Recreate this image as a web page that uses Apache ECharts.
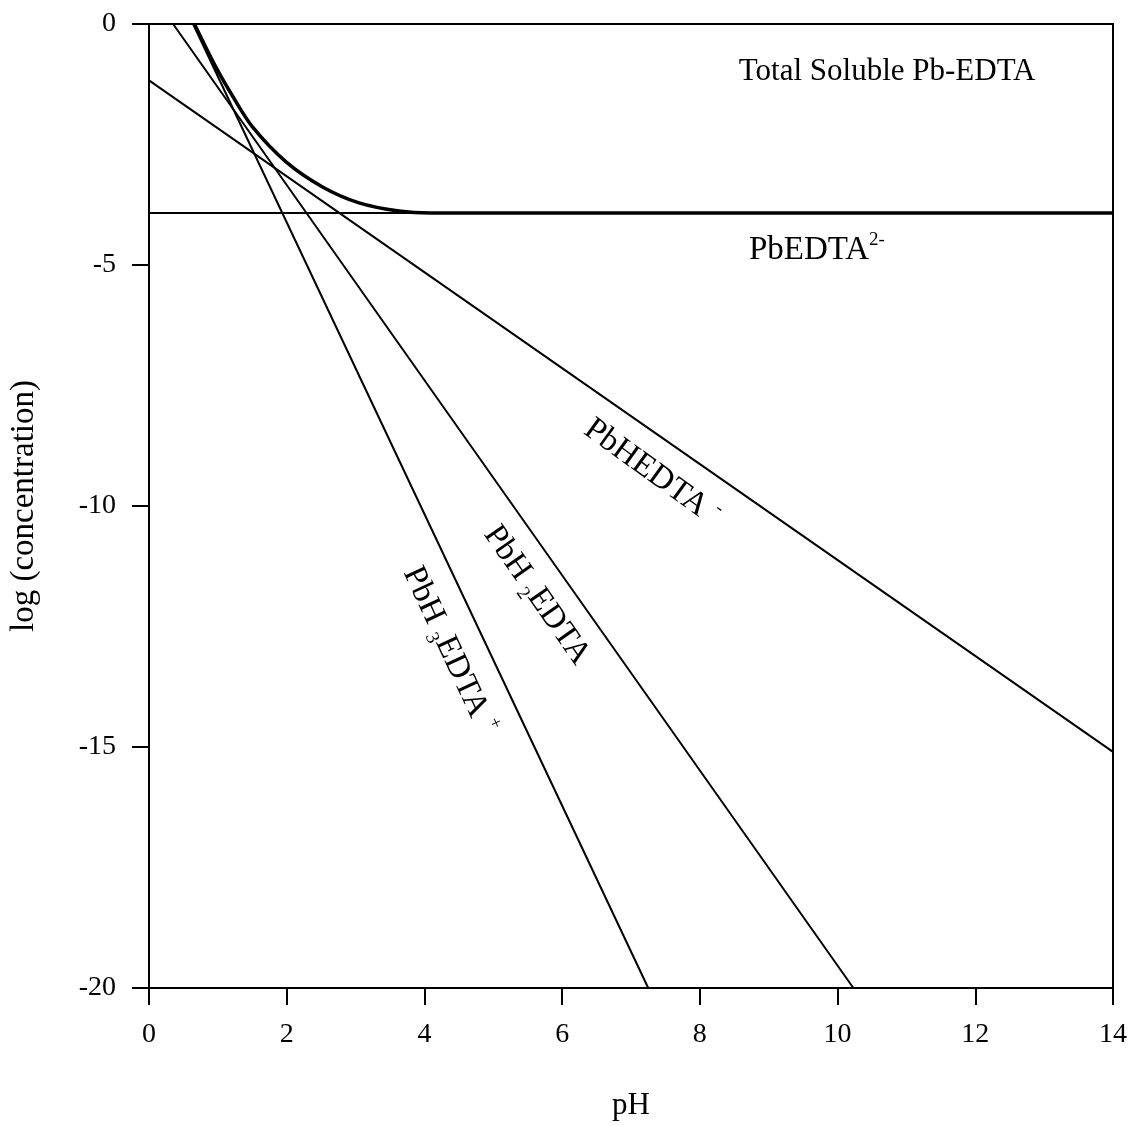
<!DOCTYPE html>
<html>
<head>
<meta charset="utf-8">
<title>Pb-EDTA speciation vs pH</title>
<script src="https://cdn.jsdelivr.net/npm/echarts@6/dist/echarts.min.js"></script>
<style>
  html, body { margin: 0; padding: 0; background: #fff; }
  #chart { width: 1136px; height: 1126px; }
</style>
</head>
<body>
<div id="chart"></div>
<script>
// Species lines: [pH, log concentration]
const pbEDTA   = [[0, -3.92], [14, -3.92]];
const pbHEDTA  = [[0, -1.17], [14, -15.1]];
const pbH2EDTA = [[0.35, 0], [10.23, -20]];
const pbH3EDTA = [[0.64, 0], [7.25, -20]];
// Sum of all soluble Pb-EDTA species
const totalSoluble = [
  [0.66, 0], [0.97, -0.89], [1.22, -1.51], [1.5, -2.13], [1.99, -2.86],
  [2.52, -3.38], [3.05, -3.71], [3.63, -3.88], [4.1, -3.92], [14, -3.92]
];
// Axis ranges
const xRange = [0, 14, 2];
const yRange = [-20, 0, 5];

const serif = '"Liberation Serif", "Times New Roman", serif';
const rich = {
  m:   { fontFamily: serif, fontSize: 32, lineHeight: 40, color: '#000' },
  sup: { fontFamily: serif, fontSize: 19, lineHeight: 40, verticalAlign: 'top', color: '#000' },
  sub: { fontFamily: serif, fontSize: 19, lineHeight: 40, verticalAlign: 'bottom', color: '#000' }
};

function speciesLine(name, data, width) {
  return {
    name, type: 'line', data, showSymbol: false, silent: true,
    lineStyle: { color: '#000', width: width },
    emphasis: { disabled: true },
    z: 3
  };
}

function textTag(coord, text, angle, size) {
  const r = Object.assign({}, rich, { m: Object.assign({}, rich.m, { fontSize: size }) });
  return {
    type: 'scatter', silent: true, symbolSize: 1,
    itemStyle: { color: '#fff', opacity: 0 },
    emphasis: { disabled: true },
    data: [coord],
    label: {
      show: true, position: 'inside', rotate: angle, color: '#000', opacity: 1,
      textBorderWidth: 0, fontFamily: serif, fontSize: size,
      formatter: text, rich: r
    },
    z: 5
  };
}

const chart = echarts.init(document.getElementById('chart'), null, { renderer: 'canvas' });
chart.setOption({
  animation: false,
  backgroundColor: '#fff',
  grid: {
    left: 146, top: 24, right: 23, bottom: 138,
    show: true, borderColor: '#000', borderWidth: 2, backgroundColor: 'transparent'
  },
  xAxis: {
    type: 'value', min: xRange[0], max: xRange[1], interval: xRange[2],
    name: 'pH', nameLocation: 'middle', nameGap: 102,
    nameTextStyle: { fontFamily: serif, fontSize: 31, color: '#000' },
    axisLine: { show: true, onZero: false, lineStyle: { color: '#000', width: 2 } },
    axisTick: { show: true, inside: false, length: 17, lineStyle: { color: '#000', width: 2 } },
    axisLabel: { margin: 33, fontFamily: serif, fontSize: 28, color: '#000' },
    splitLine: { show: false }
  },
  yAxis: {
    type: 'value', min: yRange[0], max: yRange[1], interval: yRange[2],
    name: 'log (concentration)', nameLocation: 'middle', nameGap: 108, nameRotate: 90,
    nameTextStyle: { fontFamily: serif, fontSize: 33, color: '#000' },
    axisLine: { show: true, onZero: false, lineStyle: { color: '#000', width: 2 } },
    axisTick: { show: true, inside: false, length: 17, lineStyle: { color: '#000', width: 2 } },
    axisLabel: { margin: 33, fontFamily: serif, fontSize: 28, color: '#000' },
    splitLine: { show: false }
  },
  series: [
    speciesLine('PbEDTA2-', pbEDTA, 2),
    speciesLine('PbHEDTA-', pbHEDTA, 2),
    speciesLine('PbH2EDTA', pbH2EDTA, 2),
    speciesLine('PbH3EDTA+', pbH3EDTA, 2),
    Object.assign(speciesLine('Total Soluble Pb-EDTA', totalSoluble, 3.5), { smooth: 0.3 }),
    textTag([10.72, -1.0], '{m|Total Soluble Pb-EDTA}', 0, 31),
    textTag([9.7, -4.7], '{m|PbEDTA}{sup|2-}', 0, 33),
    textTag([7.3, -9.3], '{m|PbHEDTA }{sup|-}', -36, 33),
    textTag([5.63, -11.85], '{m|PbH }{sub|2}{m|EDTA}', -55, 33),
    textTag([4.36, -13.0], '{m|PbH }{sub|3}{m|EDTA }{sup|+}', -65, 33)
  ]
});
</script>
</body>
</html>
